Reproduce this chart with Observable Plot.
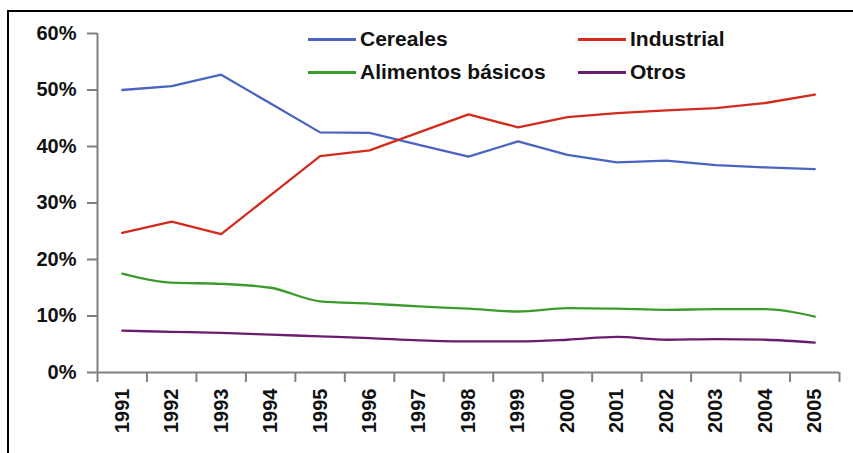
<!DOCTYPE html>
<html>
<head>
<meta charset="utf-8">
<script src="https://cdn.jsdelivr.net/npm/d3@7"></script>
<script src="https://cdn.jsdelivr.net/npm/@observablehq/plot@0.6"></script>
<style>
  body { margin: 0; background: #fff; font-family: "Liberation Sans", Arial, sans-serif; }
  #wrap { position: relative; width: 853px; height: 453px; overflow: hidden; background: #fff; }
  #frame { position: absolute; left: 7px; top: 10px; width: 900px; height: 500px;
           border-left: 2.5px solid #000; border-top: 2.5px solid #000; box-sizing: border-box; pointer-events: none; }
  #chart { position: absolute; left: 0; top: 0; }
  #legend { position: absolute; left: 308px; top: 28px; display: grid;
            grid-template-columns: 270px auto; row-gap: 11px; }
  .item { display: flex; align-items: center; height: 22px; font-weight: bold; font-size: 21px; color: #111; white-space: nowrap; }
  .sw { width: 48px; height: 3px; margin-right: 4px; }
</style>
</head>
<body>
<div id="wrap">
  <div id="chart"></div>
  <div id="legend"></div>
  <div id="frame"></div>
</div>
<script>
const years = [1991, 1992, 1993, 1994, 1995, 1996, 1997, 1998, 1999, 2000, 2001, 2002, 2003, 2004, 2005];
const cereales  = [50.0, 50.7, 52.7, 47.6, 42.5, 42.4, 40.3, 38.2, 40.9, 38.5, 37.2, 37.5, 36.7, 36.3, 36.0];
const industrial = [24.7, 26.7, 24.5, 31.4, 38.3, 39.3, 42.5, 45.7, 43.4, 45.2, 45.9, 46.4, 46.8, 47.7, 49.2];
const alimentos = [17.5, 15.9, 15.7, 15.0, 12.6, 12.2, 11.7, 11.3, 10.8, 11.4, 11.3, 11.1, 11.2, 11.2, 9.9];
const otros     = [7.4, 7.2, 7.0, 6.7, 6.4, 6.1, 5.7, 5.5, 5.5, 5.8, 6.3, 5.8, 5.9, 5.8, 5.3];
const seriesNames = ["Cereales", "Industrial", "Alimentos básicos", "Otros"];
const seriesColors = ["#4a64c2", "#d32a1c", "#3c9a2c", "#6a1c6e"];
const seriesCurves = ["linear", "linear", "monotone-x", "monotone-x"];
const yTicks = [0, 10, 20, 30, 40, 50, 60];

const seriesValues = [cereales, industrial, alimentos, otros];
const tables = seriesNames.map((name, k) =>
  years.map((year, i) => ({ year, value: seriesValues[k][i], serie: name })));
const boundaries = years.map(y => y - 0.5).concat([years[years.length - 1] + 0.5]);

const plot = Plot.plot({
  width: 853,
  height: 453,
  marginLeft: 97,
  marginRight: 14,
  marginTop: 33,
  marginBottom: 81,
  style: { background: "transparent", fontFamily: "'Liberation Sans', Arial, sans-serif" },
  x: { domain: [boundaries[0], boundaries[boundaries.length - 1]] },
  y: { domain: [0, 60] },
  color: { domain: seriesNames, range: seriesColors },
  marks: [
    Plot.ruleX([boundaries[0]], { stroke: "#808080", strokeWidth: 2 }),
    Plot.ruleY([0], { stroke: "#808080", strokeWidth: 2 }),
    Plot.axisY({ ticks: yTicks, tickSize: 10, tickPadding: 11, tickFormat: d => d + "%",
                 stroke: "#808080", strokeWidth: 2, fill: "#111", fontSize: 20, fontWeight: "bold", label: null }),
    Plot.axisX({ ticks: boundaries, tickSize: 10, tickFormat: () => "", stroke: "#808080", strokeWidth: 2, label: null }),
    Plot.axisX({ ticks: years, tickSize: 0, tickPadding: 16, tickRotate: -90, tickFormat: d => String(d),
                 fill: "#111", fontSize: 20, fontWeight: "bold", label: null }),
    ...tables.map((t, k) => Plot.line(t, { x: "year", y: "value", stroke: "serie", strokeWidth: 2.3, curve: seriesCurves[k] }))
  ]
});
document.getElementById("chart").appendChild(plot);

const legend = document.getElementById("legend");
seriesNames.forEach((name, k) => {
  const item = document.createElement("div");
  item.className = "item";
  const sw = document.createElement("span");
  sw.className = "sw";
  sw.style.background = seriesColors[k];
  item.appendChild(sw);
  item.appendChild(document.createTextNode(name));
  legend.appendChild(item);
});
</script>
</body>
</html>
